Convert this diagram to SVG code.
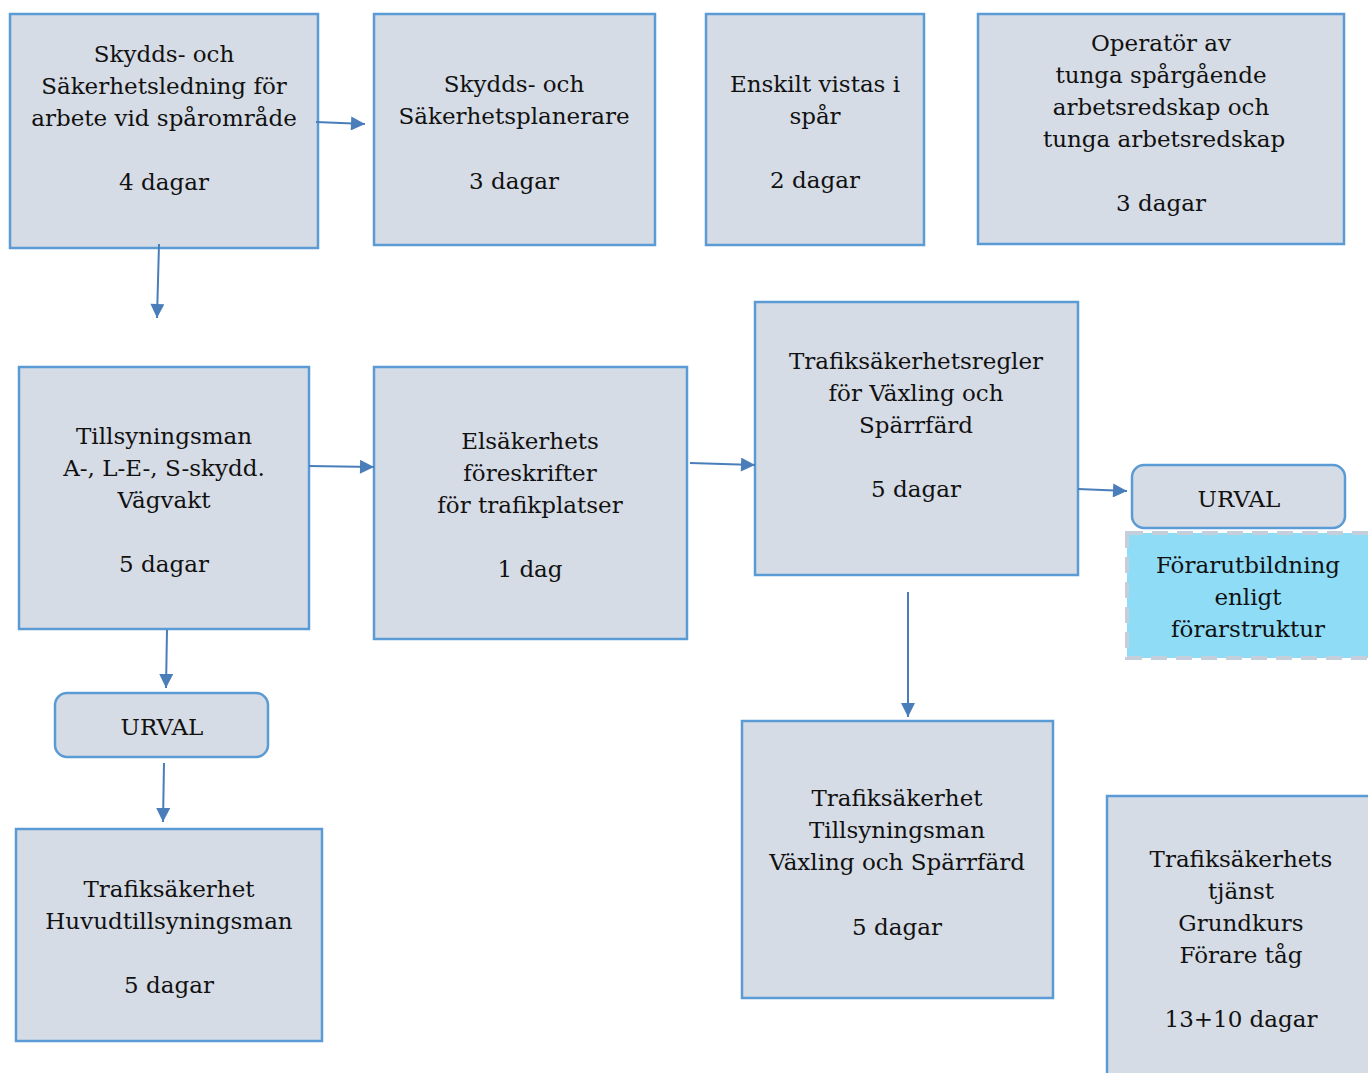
<svg xmlns="http://www.w3.org/2000/svg" width="1368" height="1073" viewBox="0 0 1368 1073">
<defs>
<style>
.box{fill:#d6dce5;stroke:#5b9bd5;stroke-width:2.5}
.dash{fill:#8fdcf7;stroke:#c5cfdc;stroke-width:4;stroke-dasharray:16,9}
text{font-family:"DejaVu Serif","Liberation Serif",serif;font-size:23px;fill:#111;text-anchor:middle}
.c line{stroke:#4a7ebb;stroke-width:2}
</style>
<marker id="ah" viewBox="0 0 10 10" refX="10" refY="5" markerWidth="16" markerHeight="14" markerUnits="userSpaceOnUse" orient="auto">
<path d="M0,0 L10,5 L0,10 z" fill="#4a7ebb"/>
</marker>
</defs>
<rect width="1368" height="1073" fill="#fff"/>
<g id="n1"><rect class="box" x="10" y="14" width="308" height="234"/>
<text x="164" y="62">Skydds- och</text><text x="164" y="94">Säkerhetsledning för</text><text x="164" y="126">arbete vid spårområde</text><text x="164" y="190">4 dagar</text></g>
<g id="n2"><rect class="box" x="374" y="14" width="281" height="231"/>
<text x="514" y="92">Skydds- och</text><text x="514" y="124">Säkerhetsplanerare</text><text x="514" y="189">3 dagar</text></g>
<g id="n3"><rect class="box" x="706" y="14" width="218" height="231"/>
<text x="815" y="92">Enskilt vistas i</text><text x="815" y="124">spår</text><text x="815" y="188">2 dagar</text></g>
<g id="n4"><rect class="box" x="978" y="14" width="366" height="230"/>
<text x="1161" y="51">Operatör av</text><text x="1161" y="83">tunga spårgående</text><text x="1161" y="115">arbetsredskap och</text><text x="1164" y="147">tunga arbetsredskap</text><text x="1161" y="211">3 dagar</text></g>
<g id="n5"><rect class="box" x="19" y="367" width="290" height="262"/>
<text x="164" y="444">Tillsyningsman</text><text x="164" y="476">A-, L-E-, S-skydd.</text><text x="164" y="508">Vägvakt</text><text x="164" y="572">5 dagar</text></g>
<g id="n6"><rect class="box" x="374" y="367" width="313" height="272"/>
<text x="530" y="449">Elsäkerhets</text><text x="530" y="481">föreskrifter</text><text x="530" y="513">för trafikplatser</text><text x="530" y="577">1 dag</text></g>
<g id="n7"><rect class="box" x="755" y="302" width="323" height="273"/>
<text x="916" y="369">Trafiksäkerhetsregler</text><text x="916" y="401">för Växling och</text><text x="916" y="433">Spärrfärd</text><text x="916" y="497">5 dagar</text></g>
<g id="n8"><rect class="box" x="1132" y="465" width="213" height="63" rx="12"/>
<text x="1239" y="507">URVAL</text></g>
<g id="n9"><rect class="dash" x="1127" y="533" width="245" height="125"/>
<text x="1248" y="573">Förarutbildning</text><text x="1248" y="605">enligt</text><text x="1248" y="637">förarstruktur</text></g>
<g id="n10"><rect class="box" x="55" y="693" width="213" height="64" rx="12"/>
<text x="162" y="735">URVAL</text></g>
<g id="n11"><rect class="box" x="16" y="829" width="306" height="212"/>
<text x="169" y="897">Trafiksäkerhet</text><text x="169" y="929">Huvudtillsyningsman</text><text x="169" y="993">5 dagar</text></g>
<g id="n12"><rect class="box" x="742" y="721" width="311" height="277"/>
<text x="897" y="806">Trafiksäkerhet</text><text x="897" y="838">Tillsyningsman</text><text x="897" y="870">Växling och Spärrfärd</text><text x="897" y="935">5 dagar</text></g>
<g id="n13"><rect class="box" x="1107" y="796" width="280" height="300"/>
<text x="1241" y="867">Trafiksäkerhets</text><text x="1241" y="899">tjänst</text><text x="1241" y="931">Grundkurs</text><text x="1241" y="963">Förare tåg</text><text x="1241" y="1027">13+10 dagar</text></g>
<g id="connectors" class="c">
<line x1="316" y1="122" x2="365" y2="124" marker-end="url(#ah)"/>
<line x1="159" y1="244" x2="157" y2="318" marker-end="url(#ah)"/>
<line x1="309" y1="466" x2="374" y2="467" marker-end="url(#ah)"/>
<line x1="690" y1="463" x2="755" y2="465" marker-end="url(#ah)"/>
<line x1="1078" y1="489" x2="1127" y2="491" marker-end="url(#ah)"/>
<line x1="908" y1="592" x2="908" y2="717" marker-end="url(#ah)"/>
<line x1="167" y1="630" x2="166" y2="688" marker-end="url(#ah)"/>
<line x1="164" y1="763" x2="163" y2="822" marker-end="url(#ah)"/>
</g>
</svg>
